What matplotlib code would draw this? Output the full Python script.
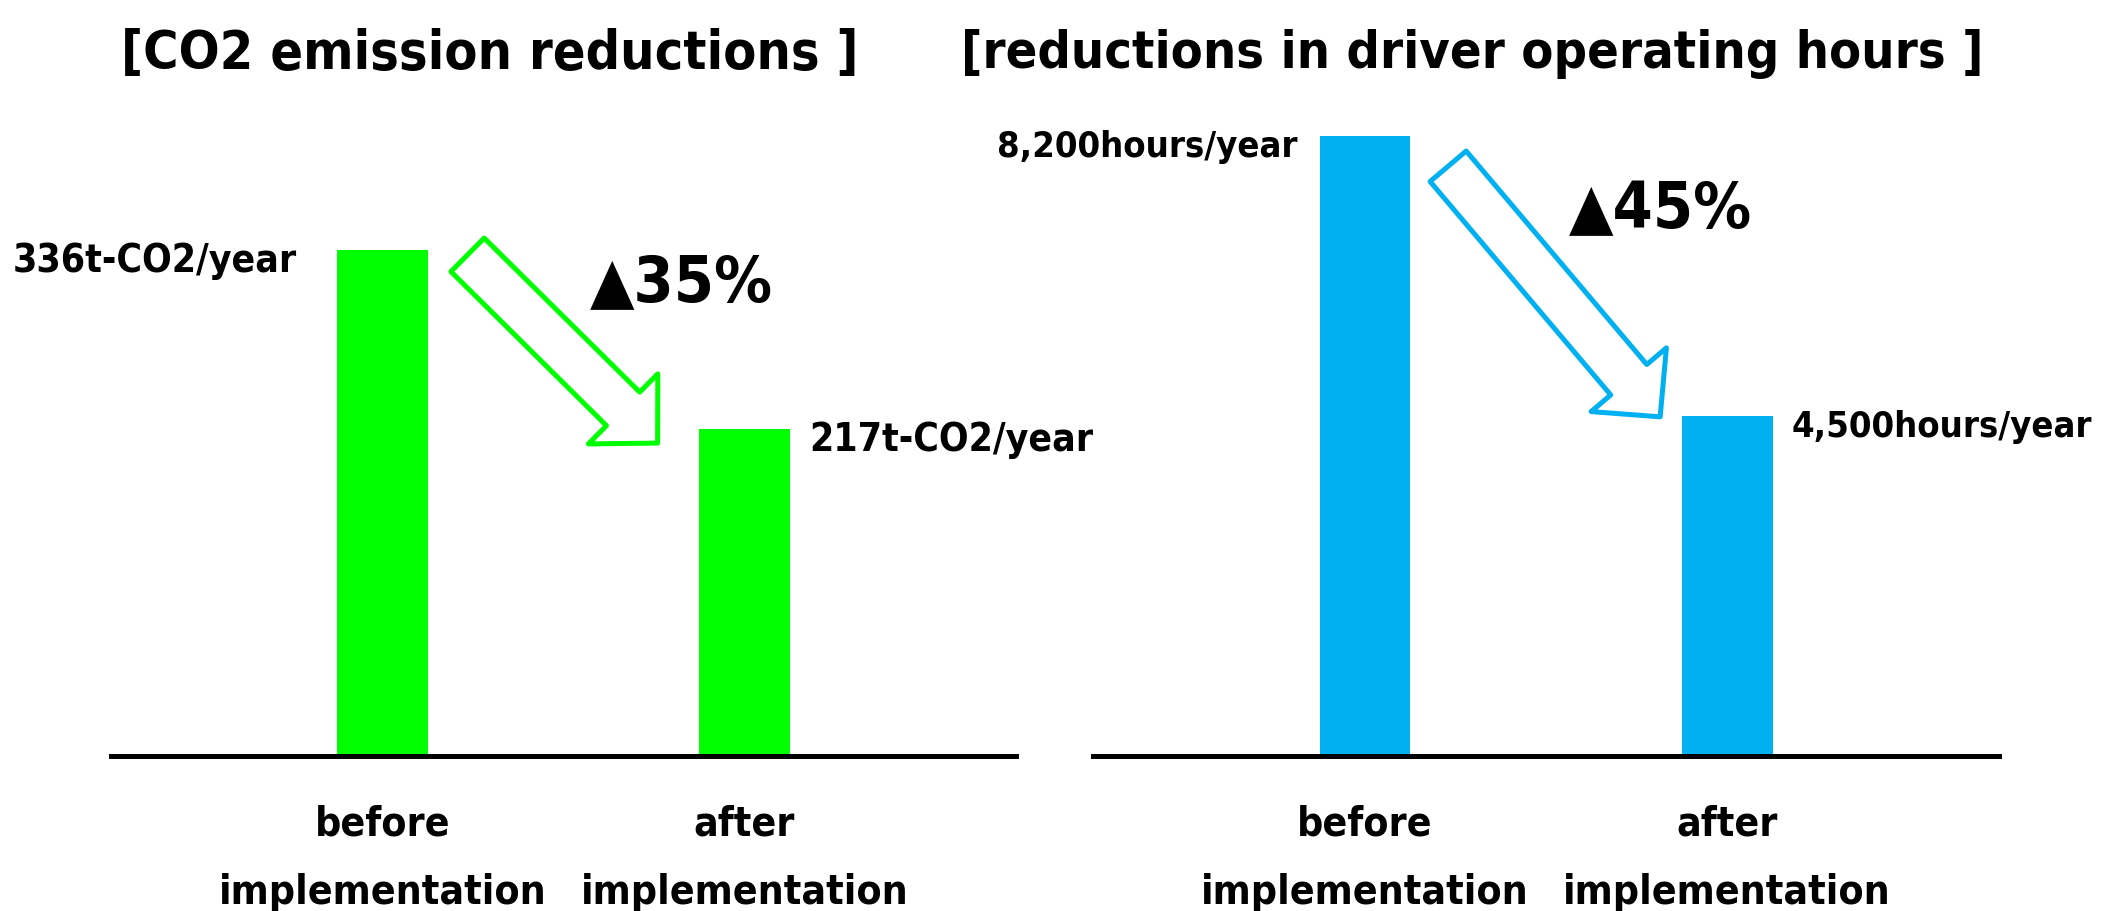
import matplotlib
matplotlib.use("Agg")
import matplotlib.pyplot as plt

plt.rcParams['font.family'] = ['DejaVu Sans']
plt.rcParams['font.stretch'] = 'condensed'
plt.rcParams['font.weight'] = 'bold'

# ---- data ----
categories = ["before\nimplementation", "after\nimplementation"]

co2_title = "[CO2 emission reductions ]"
co2_values = [336, 217]
co2_labels = ["336t-CO2/year", "217t-CO2/year"]
co2_change = "▲35%"

hours_title = "[reductions in driver operating hours ]"
hours_values = [8200, 4500]
hours_labels = ["8,200hours/year", "4,500hours/year"]
hours_change = "▲45%"

GREEN = "#00FF00"
BLUE = "#00B0F0"

W, H = 2116, 911

fig = plt.figure(figsize=(W / 100, H / 100), dpi=100)
renderer = fig.canvas.get_renderer()


def fit_size(text, target_px, base=30):
    # font size that makes `text` about target_px wide
    t = fig.text(0, 0, text, fontsize=base)
    w = t.get_window_extent(renderer).width
    t.remove()
    return base * target_px / w


tick_fs = fit_size("implementation", 327)
change_fs = fit_size(co2_change, 183)


def draw_panel(ax, values, labels, color, change, ytop, label_gap, label_w,
               change_pos, arrow_tail, arrow_tip):
    x = [0, 1]
    bw = 0.25
    ax.bar(x, values, width=bw, color=color)
    ax.set_xlim(-0.75, 1.75)
    ax.set_ylim(0, ytop)

    for s in ['top', 'left', 'right']:
        ax.spines[s].set_visible(False)
    ax.spines['bottom'].set_linewidth(3.6)
    ax.set_yticks([])
    ax.set_xticks(x)
    ax.set_xticklabels(categories, fontsize=tick_fs)
    for t in ax.get_xticklabels():
        t.set_linespacing(1.9)
    ax.tick_params(axis='x', length=0, pad=35)

    # value labels: before on the left of its bar, after on the right
    label_fs = fit_size(labels[0], label_w)
    ax.annotate(labels[0], xy=(x[0] - bw / 2, values[0]), xytext=(-label_gap, -8),
                textcoords='offset points', ha='right', va='center', fontsize=label_fs)
    ax.annotate(labels[1], xy=(x[1] + bw / 2, values[1]), xytext=(14, -8),
                textcoords='offset points', ha='left', va='center', fontsize=label_fs)

    # hollow block arrow
    ax.annotate("", xy=arrow_tip, xytext=arrow_tail,
                xycoords='axes fraction', textcoords='axes fraction',
                arrowprops=dict(arrowstyle="simple,head_length=35,head_width=71,tail_width=34",
                                mutation_scale=1, fc='white', ec=color, lw=3.6,
                                shrinkA=0, shrinkB=0))

    ax.text(change_pos[0], change_pos[1], change, transform=ax.transAxes,
            ha='left', va='center', fontsize=change_fs)


ax1 = fig.add_axes([111 / W, 1 - 756 / H, 905 / W, 656 / H])
ax2 = fig.add_axes([1093 / W, 1 - 756 / H, 906 / W, 656 / H])

draw_panel(ax1, co2_values, co2_labels, GREEN, co2_change, 435.6, 29, 284,
           (0.529, 0.721), (0.394, 0.764), (0.604, 0.477))
draw_panel(ax2, hours_values, hours_labels, BLUE, hours_change, 8676, 16, 300,
           (0.525, 0.832), (0.392, 0.899), (0.626, 0.517))

fig.text(121 / W, 1 - 54 / H, co2_title, ha='left', va='center',
         fontsize=fit_size(co2_title, 736))
fig.text(961 / W, 1 - 54 / H, hours_title, ha='left', va='center',
         fontsize=fit_size(hours_title, 1020))

fig.savefig("out.png", dpi=100)
